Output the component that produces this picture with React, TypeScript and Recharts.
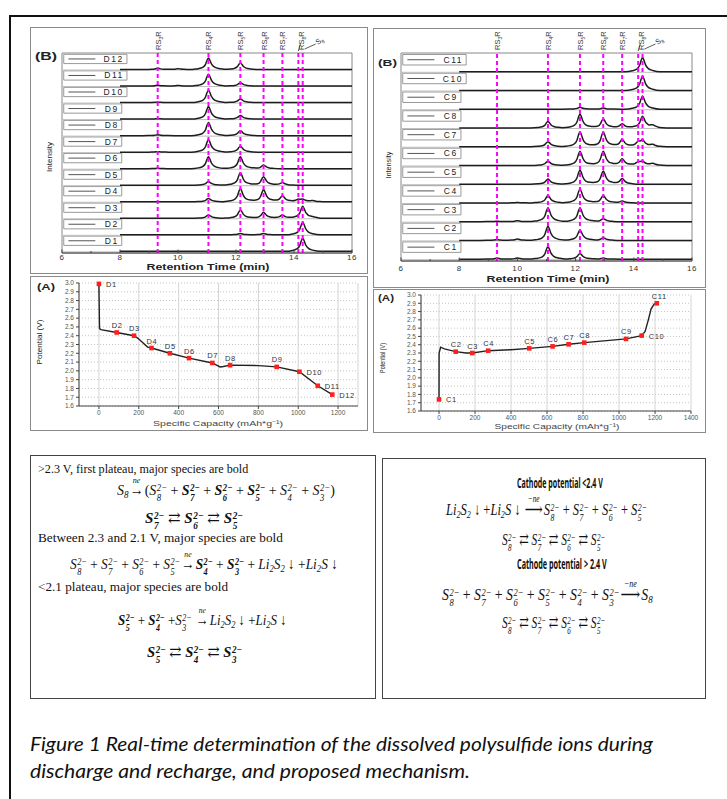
import React, { useLayoutEffect, useRef, useState } from "react";
import {
  ComposedChart,
  Line,
  Scatter,
  XAxis,
  YAxis,
  CartesianGrid,
  ReferenceLine,
  ReferenceArea,
} from "recharts";

// retention times (min) where peaks show up
const peakTimes = [9.3, 10.0, 11.05, 12.15, 12.95, 13.6, 14.15, 14.3, 14.65];

// peak profile (offset in min, relative height)
const profileOffsets = [-0.6, -0.35, -0.2, -0.1, -0.05, 0, 0.05, 0.1, 0.2, 0.35, 0.6];
const profileLevels = [0, 0.07, 0.18, 0.45, 0.78, 1, 0.8, 0.5, 0.22, 0.09, 0];

// discharge chromatograms, bottom (D1) to top (D12), heights at peakTimes
const dischargeNames = ["D1", "D2", "D3", "D4", "D5", "D6", "D7", "D8", "D9", "D10", "D11", "D12"];
const dischargeHeights = [
  [0, 0, 0, 0, 0, 0, 0, 0.8, 0],
  [0, 0, 0, 0.08, 0.08, 0, 0, 0.76, 0],
  [0, 0, 0.2, 0.5, 0.36, 0.2, 0, 0.72, 0.04],
  [0, 0, 0.2, 0.8, 0.74, 0.36, 0.12, 0.12, 0.06],
  [0, 0, 0.22, 0.76, 0.52, 0.16, 0, 0, 0],
  [0.03, 0, 0.72, 0.72, 0.22, 0, 0, 0, 0],
  [0.03, 0, 0.76, 0.36, 0, 0, 0, 0, 0],
  [0.05, 0, 0.8, 0.3, 0, 0, 0, 0, 0],
  [0.03, 0, 0.76, 0.22, 0, 0, 0, 0, 0],
  [0.03, 0, 0.76, 0.22, 0, 0, 0, 0, 0],
  [0.05, 0.04, 0.72, 0.2, 0, 0, 0, 0, 0],
  [0.08, 0.05, 0.7, 0.4, 0, 0, 0, 0, 0],
];

// charge chromatograms, bottom (C1) to top (C11)
const chargeNames = ["C1", "C2", "C3", "C4", "C5", "C6", "C7", "C8", "C9", "C10", "C11"];
const chargeHeights = [
  [0.05, 0.06, 0.67, 0.3, 0.05, 0, 0, 0, 0],
  [0.04, 0.07, 0.76, 0.55, 0.14, 0, 0, 0, 0],
  [0.02, 0.05, 0.74, 0.74, 0.16, 0, 0, 0, 0],
  [0, 0.02, 0.39, 0.74, 0.4, 0.1, 0, 0, 0],
  [0, 0, 0.27, 0.76, 0.7, 0.3, 0, 0, 0],
  [0, 0, 0.23, 0.76, 0.76, 0.35, 0.15, 0.18, 0.1],
  [0, 0, 0.27, 0.8, 0.78, 0.39, 0.2, 0.3, 0.1],
  [0, 0, 0.35, 0.74, 0.48, 0.23, 0, 0.62, 0.12],
  [0, 0, 0, 0.1, 0.06, 0, 0, 0.7, 0],
  [0, 0, 0, 0, 0, 0, 0, 0.76, 0],
  [0, 0, 0, 0, 0, 0, 0, 0.76, 0],
];

// magenta guide lines
const guideTimes = [9.3, 11.05, 12.15, 12.95, 13.6, 14.15, 14.3];
const guideLabels = ["RS3R", "RS4R", "RS5R", "RS6R", "RS7R", "RS8R", "S8"];
const retentionTicks = [6, 7, 8, 9, 10, 11, 12, 13, 14, 15, 16];

// discharge curve (panel A, left)
const dischargeCapacity = [0, 0.5, 3, 10, 89, 176, 196, 244, 264, 356, 452, 569, 608, 625, 658, 800, 892, 1006, 1098, 1171];
const dischargePotential = [2.99, 2.88, 2.48, 2.47, 2.437, 2.4, 2.37, 2.27, 2.26, 2.2, 2.145, 2.09, 2.045, 2.05, 2.065, 2.06, 2.045, 1.99, 1.83, 1.73];
const dischargeMarkCapacity = [0, 89, 176, 264, 356, 452, 569, 658, 892, 1006, 1098, 1171];
const dischargeMarkPotential = [2.99, 2.437, 2.4, 2.26, 2.2, 2.145, 2.09, 2.065, 2.045, 1.99, 1.83, 1.73];

// charge curve (panel A, right)
const chargeCapacity = [0, 0.5, 9, 30, 93, 150, 185, 273, 400, 501, 631, 720, 807, 1039, 1126, 1145, 1163, 1178, 1195, 1210];
const chargePotential = [1.74, 2.3, 2.37, 2.35, 2.316, 2.3, 2.3, 2.328, 2.34, 2.356, 2.38, 2.405, 2.425, 2.47, 2.51, 2.56, 2.7, 2.83, 2.89, 2.9];
const chargeMarkCapacity = [0, 93, 185, 273, 501, 631, 720, 807, 1039, 1126, 1210];
const chargeMarkPotential = [1.74, 2.316, 2.3, 2.328, 2.356, 2.38, 2.405, 2.425, 2.47, 2.51, 2.9];

const potentialTicks = [1.6, 1.7, 1.8, 1.9, 2.0, 2.1, 2.2, 2.3, 2.4, 2.5, 2.6, 2.7, 2.8, 2.9, 3.0];
const dischargeCapTicks = [0, 200, 400, 600, 800, 1000, 1200];
const chargeCapTicks = [0, 200, 400, 600, 800, 1000, 1200, 1400];

const SANS = "'Liberation Sans', Arial, sans-serif";
const SERIF = "'Liberation Serif', 'Times New Roman', serif";
const MATH = "'Liberation Serif', 'DejaVu Serif', serif";

function profileAt(dt: number) {
  const o = profileOffsets;
  if (dt <= o[0] || dt >= o[o.length - 1]) return 0;
  for (let j = 0; j < o.length - 1; j++) {
    if (dt >= o[j] && dt <= o[j + 1]) {
      const f = (dt - o[j]) / (o[j + 1] - o[j]);
      return profileLevels[j] + f * (profileLevels[j + 1] - profileLevels[j]);
    }
  }
  return 0;
}

function buildTrace(heights: number[], base: number) {
  const ts = new Set<number>([8, 16]);
  heights.forEach((h, i) => {
    if (h > 0) profileOffsets.forEach((o) => ts.add(+(peakTimes[i] + o).toFixed(3)));
  });
  const times = Array.from(ts).filter((t) => t >= 8 && t <= 16).sort((a, b) => a - b);
  return times.map((t) => ({
    t,
    y: base + heights.reduce((s, h, i) => s + h * profileAt(t - peakTimes[i]), 0),
  }));
}

const ChromTick = (p: any) => {
  const { x, y, payload, dy } = p;
  const major = payload.value % 2 === 0;
  return (
    <g>
      <line x1={x} x2={x} y1={y} y2={y - (major ? 3.5 : 2)} stroke="#444" />
      {major && (
        <text x={x} y={y + dy} textAnchor="middle" fontSize={8} fill="#333" fontFamily={SANS} letterSpacing={0.6}>
          {payload.value}
        </text>
      )}
    </g>
  );
};

const GuideLabel = (p: any) => {
  const { viewBox, text } = p;
  if (!viewBox) return null;
  const x = viewBox.x;
  const y = viewBox.y;
  if (text === "S8") {
    return (
      <g>
        <line x1={x + 13} y1={y - 9} x2={x + 2} y2={y - 4} stroke="#333" strokeWidth={0.8} />
        <text transform={`translate(${x + 15},${y - 8}) rotate(-35)`} fontSize={7.5} fill="#333" fontFamily={SANS}>
          S<tspan fontSize={5} dy={2}>8</tspan>
        </text>
      </g>
    );
  }
  const shift = text === "RS8R" ? 5.5 : 3;
  return (
    <g>
      {text === "RS8R" && <line x1={x} y1={y - 2} x2={x + 2} y2={y - 9} stroke="#333" strokeWidth={0.8} />}
      <text transform={`translate(${x + shift},${y - 3}) rotate(-90)`} fontSize={7.5} fill="#333" fontFamily={SANS}>
        RS<tspan fontSize={5} dy={2}>{text[2]}</tspan>
        <tspan dy={-2}>R</tspan>
      </text>
    </g>
  );
};

type ChromProps = {
  names: string[];
  heights: number[][];
  width: number;
  height: number;
  margin: { top: number; right: number; bottom: number; left: number };
  axisHeight: number;
  tickDy: number;
};

function Chromatogram({ names, heights, width, height, margin, axisHeight, tickDy }: ChromProps) {
  const n = names.length;
  return (
    <ComposedChart width={width} height={height} margin={margin}>
      <XAxis
        type="number"
        dataKey="t"
        domain={[6, 16]}
        ticks={retentionTicks}
        interval={0}
        allowDataOverflow
        tickLine={false}
        tickSize={0}
        tickMargin={0}
        height={axisHeight}
        stroke="#444"
        tick={<ChromTick dy={tickDy} />}
      />
      <YAxis type="number" domain={[-0.1, n]} hide allowDataOverflow />
      <ReferenceArea x1={6} x2={16} y1={-0.1} y2={n} fill="none" stroke="#888" />
      {names.map((_, k) => (
        <ReferenceLine key={"b" + k} y={k - 0.03} stroke="#bdbdbd" />
      ))}
      {names.map((name, k) => (
        <ReferenceArea
          key={"l" + k}
          x1={6.06}
          x2={name.length > 2 ? 8.24 : 8.06}
          y1={k + 0.36}
          y2={k + 0.92}
          fill="#fff"
          fillOpacity={1}
          stroke="#999"
          label={{ value: name, position: "insideRight", offset: 3, fontSize: 8.5, fill: "#222", fontFamily: SANS, letterSpacing: 1.6 }}
        />
      ))}
      {names.map((_, k) => (
        <ReferenceLine
          key={"s" + k}
          segment={[
            { x: 6.22, y: k + 0.64 },
            { x: 7.15, y: k + 0.64 },
          ]}
          stroke="#555"
        />
      ))}
      {names.map((name, k) => (
        <Line
          key={name}
          data={buildTrace(heights[k], k)}
          dataKey="y"
          type="monotone"
          dot={false}
          stroke="#1d1d1d"
          strokeWidth={1.5}
          isAnimationActive={false}
        />
      ))}
      {guideTimes.map((t, i) => (
        <ReferenceLine
          key={"g" + i}
          x={t}
          stroke="#ff00ff"
          strokeWidth={2}
          strokeDasharray="4 3"
          label={<GuideLabel text={guideLabels[i]} />}
        />
      ))}
    </ComposedChart>
  );
}

function markerShape(rightNames: string[]) {
  return (p: any) => {
    const { cx, cy, payload } = p;
    const right = rightNames.includes(payload.name);
    return (
      <g>
        <rect x={cx - 2.3} y={cy - 2.3} width={4.6} height={4.6} fill="#ff1f1f" />
        <text
          x={right ? cx + 7 : cx - 5}
          y={right ? cy + 3 : cy - 4.5}
          fontSize={7.5}
          fill="#333"
          fontFamily={SANS}
          letterSpacing={0.6}
        >
          {payload.name}
        </text>
      </g>
    );
  };
}

type CurveProps = {
  capacity: number[];
  potential: number[];
  markCapacity: number[];
  markPotential: number[];
  prefix: string;
  rightNames: string[];
  xMax: number;
  xTicks: number[];
  width: number;
  height: number;
  margin: { top: number; right: number; bottom: number; left: number };
  axisHeight: number;
};

function CurvePanel(p: CurveProps) {
  const curve = p.capacity.map((x, i) => ({ x, v: p.potential[i] }));
  const marks = p.markCapacity.map((x, i) => ({ x, v: p.markPotential[i], name: p.prefix + (i + 1) }));
  const tickStyle = { fontSize: 6.5, fill: "#555", fontFamily: SANS };
  return (
    <ComposedChart width={p.width} height={p.height} margin={p.margin}>
      <CartesianGrid horizontal vertical={false} stroke="#c4c4c4" strokeDasharray="1 2" />
      <CartesianGrid horizontal={false} vertical stroke="#d4d4d4" />
      <XAxis
        type="number"
        dataKey="x"
        domain={[-100, p.xMax]}
        ticks={p.xTicks}
        interval={0}
        tickSize={3}
        tickMargin={1}
        height={p.axisHeight}
        stroke="#444"
        tick={tickStyle}
      />
      <YAxis
        type="number"
        domain={[1.6, 3.0]}
        ticks={potentialTicks}
        interval={0}
        width={30}
        tickSize={3}
        tickMargin={2}
        stroke="#444"
        tick={tickStyle}
        tickFormatter={(v: number) => v.toFixed(1)}
      />
      <Line data={curve} dataKey="v" type="linear" dot={false} stroke="#222" strokeWidth={1.4} isAnimationActive={false} />
      <Scatter data={marks} dataKey="v" shape={markerShape(p.rightNames)} isAnimationActive={false} />
    </ComposedChart>
  );
}

// one line of text squeezed/stretched to span x0..x1
function Fit({ x0, x1, cy, size, family, weight = 400, italic = false, lh = 30, children }: any) {
  const ref = useRef<HTMLDivElement>(null);
  const [k, setK] = useState(1);
  useLayoutEffect(() => {
    const measure = () => {
      const el = ref.current;
      if (el && el.offsetWidth > 0) setK((x1 - x0) / el.offsetWidth);
    };
    measure();
    const fonts = (document as any).fonts;
    if (fonts && fonts.ready) fonts.ready.then(measure);
  }, [x0, x1]);
  return (
    <div
      ref={ref}
      style={{
        position: "absolute",
        left: x0,
        top: cy - lh / 2,
        height: lh,
        lineHeight: `${lh}px`,
        whiteSpace: "nowrap",
        fontSize: size,
        fontFamily: family,
        fontWeight: weight,
        fontStyle: italic ? "italic" : "normal",
        transform: `scaleX(${k})`,
        transformOrigin: "0 50%",
        color: "#111",
      }}
    >
      {children}
    </div>
  );
}

function Sp({ n, b = false }: { n: string; b?: boolean }) {
  return (
    <span style={{ fontWeight: b ? 700 : 400, fontStyle: "italic" }}>
      S
      <span
        style={{
          display: "inline-flex",
          flexDirection: "column",
          fontSize: "0.62em",
          lineHeight: 1,
          verticalAlign: "0.42em",
          marginLeft: "0.06em",
        }}
      >
        <span>2−</span>
        <span>{n}</span>
      </span>
    </span>
  );
}

const sb = { fontSize: "0.65em", verticalAlign: "-0.3em", lineHeight: 1 } as const;

function Li2S2() {
  return (
    <span style={{ fontStyle: "italic" }}>
      Li<span style={sb}>2</span>S<span style={sb}>2</span>
    </span>
  );
}
function Li2S() {
  return (
    <span style={{ fontStyle: "italic" }}>
      Li<span style={sb}>2</span>S
    </span>
  );
}
function S8() {
  return (
    <span style={{ fontStyle: "italic" }}>
      S<span style={sb}>8</span>
    </span>
  );
}

function Arr({ over, long = false }: { over: string; long?: boolean }) {
  return (
    <span style={{ position: "relative", display: "inline-block", lineHeight: 1, fontStyle: "normal", padding: "0 0.08em" }}>
      {long ? "⟶" : "→"}
      <span
        style={{
          position: "absolute",
          left: 0,
          right: 0,
          top: "-0.72em",
          textAlign: "center",
          fontSize: "0.58em",
          fontStyle: "italic",
          lineHeight: 1,
        }}
      >
        {over}
      </span>
    </span>
  );
}

const eqv = <span style={{ fontStyle: "normal", fontWeight: 400 }}> ⇄ </span>;

function T({ x, y, len, size, children, weight = 400, anchor = "start", rotate = 0, italic = false, family = SANS, fill = "#222" }: any) {
  return (
    <text
      transform={`translate(${x},${y}) rotate(${rotate})`}
      fontSize={size}
      fontWeight={weight}
      fontStyle={italic ? "italic" : "normal"}
      fontFamily={family}
      textAnchor={anchor}
      textLength={len}
      lengthAdjust="spacingAndGlyphs"
      fill={fill}
    >
      {children}
    </text>
  );
}

const box = (left: number, top: number, width: number, height: number, border: string) => ({
  position: "absolute" as const,
  left,
  top,
  width,
  height,
  border,
  boxSizing: "border-box" as const,
});

export default function App() {
  return (
    <div style={{ position: "absolute", left: 0, top: 0, width: 727, height: 799, overflow: "hidden", background: "#fff" }}>
      <style>{".recharts-surface{overflow:visible}"}</style>
      <div style={box(9, 15, 800, 900, "2px solid #111")} />

      <div style={box(30, 27, 338, 247, "1px solid #8a8a8a")} />
      <div style={{ position: "absolute", left: 30, top: 27 }}>
        <Chromatogram
          names={dischargeNames}
          heights={dischargeHeights}
          width={337}
          height={246}
          margin={{ top: 26, right: 15, bottom: 0, left: 32 }}
          axisHeight={20}
          tickDy={7}
        />
      </div>

      <div style={box(373, 28, 333, 260, "1px solid #8a8a8a")} />
      <div style={{ position: "absolute", left: 373, top: 28 }}>
        <Chromatogram
          names={chargeNames}
          heights={chargeHeights}
          width={332}
          height={259}
          margin={{ top: 25, right: 13, bottom: 0, left: 28 }}
          axisHeight={26}
          tickDy={10}
        />
      </div>

      <div style={box(30, 276, 338, 155, "1px solid #8a8a8a")} />
      <div style={{ position: "absolute", left: 30, top: 276 }}>
        <CurvePanel
          capacity={dischargeCapacity}
          potential={dischargePotential}
          markCapacity={dischargeMarkCapacity}
          markPotential={dischargeMarkPotential}
          prefix="D"
          rightNames={["D1", "D10", "D11", "D12"]}
          xMax={1300}
          xTicks={dischargeCapTicks}
          width={337}
          height={154}
          margin={{ top: 7, right: 9, bottom: 0, left: 19 }}
          axisHeight={24}
        />
      </div>

      <div style={box(373, 289, 333, 144, "1px solid #8a8a8a")} />
      <div style={{ position: "absolute", left: 373, top: 289 }}>
        <CurvePanel
          capacity={chargeCapacity}
          potential={chargePotential}
          markCapacity={chargeMarkCapacity}
          markPotential={chargeMarkPotential}
          prefix="C"
          rightNames={["C1", "C10"]}
          xMax={1400}
          xTicks={chargeCapTicks}
          width={332}
          height={143}
          margin={{ top: 6, right: 14, bottom: 0, left: 18 }}
          axisHeight={21}
        />
      </div>

      <div style={box(30, 455, 346, 244, "1px solid #444")} />
      <Fit x0={38} x1={248} cy={469} size={12} family={SERIF}>
        &gt;2.3 V, first plateau, major species are bold
      </Fit>
      <Fit x0={117} x1={335} cy={490} size={15.5} family={MATH}>
        <S8 />
        <Arr over="ne" />(<Sp n="8" /> + <Sp n="7" b /> + <Sp n="6" b /> + <Sp n="5" b /> + <Sp n="4" /> + <Sp n="3" />)
      </Fit>
      <Fit x0={145} x1={243} cy={518} size={15.5} family={MATH}>
        <Sp n="7" b />
        {eqv}
        <Sp n="6" b />
        {eqv}
        <Sp n="5" b />
      </Fit>
      <Fit x0={38} x1={283} cy={538} size={12} family={SERIF}>
        Between 2.3 and 2.1 V, major species are bold
      </Fit>
      <Fit x0={70} x1={338} cy={564} size={15.5} family={MATH}>
        <Sp n="8" /> + <Sp n="7" /> + <Sp n="6" /> + <Sp n="5" />
        <Arr over="ne" />
        <Sp n="4" b /> + <Sp n="3" b /> + <Li2S2 /> ↓ +<Li2S /> ↓
      </Fit>
      <Fit x0={38} x1={228} cy={587} size={12} family={SERIF}>
        &lt;2.1 plateau, major species are bold
      </Fit>
      <Fit x0={118} x1={287} cy={620} size={15.5} family={MATH}>
        <Sp n="5" b /> + <Sp n="4" b /> +<Sp n="3" /> <Arr over="ne" />
        <Li2S2 /> ↓ +<Li2S /> ↓
      </Fit>
      <Fit x0={147} x1={242} cy={652} size={15.5} family={MATH}>
        <Sp n="5" b />
        {eqv}
        <Sp n="4" b />
        {eqv}
        <Sp n="3" b />
      </Fit>

      <div style={box(382, 458, 324, 241, "1px solid #444")} />
      <Fit x0={517} x1={603} cy={482} size={15} family="'Noto Sans', sans-serif" weight={700}>
        Cathode potential &lt;2.4 V
      </Fit>
      <Fit x0={446} x1={647} cy={510} size={17} family={MATH}>
        <Li2S2 /> ↓ +<Li2S /> ↓ <Arr over="−ne" long />
        <Sp n="8" /> + <Sp n="7" /> + <Sp n="6" /> + <Sp n="5" />
      </Fit>
      <Fit x0={502} x1={605} cy={540} size={17} family={MATH}>
        <Sp n="8" />
        {eqv}
        <Sp n="7" />
        {eqv}
        <Sp n="6" />
        {eqv}
        <Sp n="5" />
      </Fit>
      <Fit x0={517} x1={607} cy={563} size={15} family="'Noto Sans', sans-serif" weight={700}>
        Cathode potential &gt; 2.4 V
      </Fit>
      <Fit x0={442} x1={653} cy={595} size={17} family={MATH}>
        <Sp n="8" /> + <Sp n="7" /> + <Sp n="6" /> + <Sp n="5" /> + <Sp n="4" /> + <Sp n="3" />
        <Arr over="−ne" long />
        <S8 />
      </Fit>
      <Fit x0={502} x1={605} cy={623} size={17} family={MATH}>
        <Sp n="8" />
        {eqv}
        <Sp n="7" />
        {eqv}
        <Sp n="6" />
        {eqv}
        <Sp n="5" />
      </Fit>

      <svg width={727} height={799} style={{ position: "absolute", left: 0, top: 0, pointerEvents: "none" }}>
        <T x={35} y={60} len={22} size={10} weight={700}>(B)</T>
        <T x={378} y={66} len={19} size={9.5} weight={700}>(B)</T>
        <T x={37} y={290} len={18} size={9} weight={700}>(A)</T>
        <T x={378} y={301} len={16} size={8.5} weight={700}>(A)</T>

        <T x={52} y={157} len={30} size={8} anchor="middle" rotate={-90}>Intensity</T>
        <T x={391} y={165} len={27} size={8} anchor="middle" rotate={-90}>Intensity</T>
        <T x={42} y={342} len={45} size={7.5} anchor="middle" rotate={-90}>Potential (V)</T>
        <T x={385} y={358} len={30} size={7} anchor="middle" rotate={-90}>Potential (V)</T>

        <T x={208} y={270} len={123} size={9} weight={700} anchor="middle">Retention Time (min)</T>
        <T x={548} y={282} len={123} size={9} weight={700} anchor="middle">Retention Time (min)</T>
        <T x={218} y={426} len={130} size={8} anchor="middle" fill="#444">Specific Capacity (mAh*g⁻¹)</T>
        <T x={557} y={429} len={125} size={8} anchor="middle" fill="#444">Specific Capacity (mAh*g⁻¹)</T>

        <T x={30} y={751} len={623} size={19} italic family="Lato, 'Open Sans', sans-serif" fill="#111">
          Figure 1 Real-time determination of the dissolved polysulfide ions during
        </T>
        <T x={30} y={778} len={440} size={19} italic family="Lato, 'Open Sans', sans-serif" fill="#111">
          discharge and recharge, and proposed mechanism.
        </T>
      </svg>
    </div>
  );
}
